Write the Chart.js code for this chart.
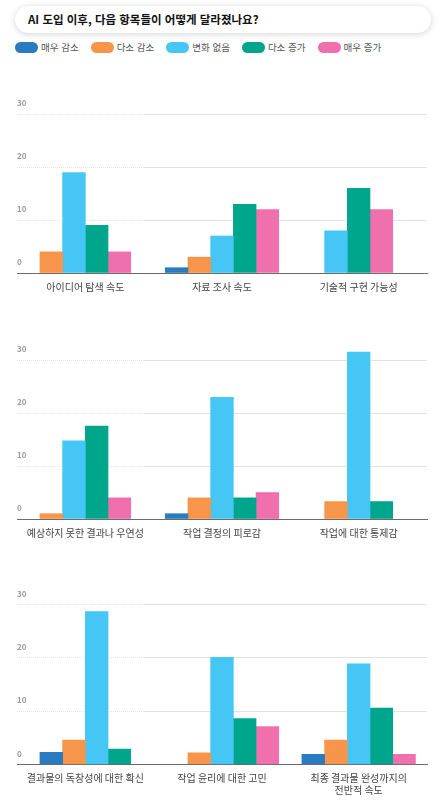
<!DOCTYPE html>
<html lang="ko">
<head>
<meta charset="utf-8">
<title>AI 도입 이후 변화</title>
<script src="https://cdn.jsdelivr.net/npm/chart.js@4.4.1/dist/chart.umd.min.js"></script>
<style>
  body { margin: 0; background: #fff; width: 445px; height: 808px; overflow: hidden; position: relative;
    font-family: 'Noto Sans CJK KR', 'Noto Sans', sans-serif; }
  #title { position: absolute; left: 15px; top: 6px; width: 416px; height: 27px; box-sizing: border-box;
    padding-left: 13px; border-radius: 14px; background: #fff; box-shadow: 0 1px 6px rgba(0, 0, 0, 0.18);
    font-size: 11.5px; font-weight: bold; line-height: 27px; color: #111; }
  #legend { position: absolute; left: 15px; top: 41px; display: flex; font-size: 9.5px; color: #555; line-height: 13px; }
  .item { display: flex; align-items: center; margin-right: 12px; }
  .pill { width: 23px; height: 11px; border-radius: 6px; margin-right: 3px; }
  .panel { position: absolute; left: 0; width: 445px; }
</style>
</head>
<body>
<div id="title">AI 도입 이후, 다음 항목들이 어떻게 달라졌나요?</div>
<div id="legend"></div>
<div class="panel" style="top:60px;height:245px"><canvas id="c1"></canvas></div>
<div class="panel" style="top:306px;height:245px"><canvas id="c2"></canvas></div>
<div class="panel" style="top:550px;height:258px"><canvas id="c3"></canvas></div>
<script>
  // series (legend order)
  var seriesNames = ['매우 감소', '다소 감소', '변화 없음', '다소 증가', '매우 증가']
  var seriesColors = ['#2b7bc0', '#f7964b', '#46c6f4', '#00a68b', '#ef70ac']

  // categories of each panel
  var labels1 = ['아이디어 탐색 속도', '자료 조사 속도', '기술적 구현 가능성']
  var labels2 = ['예상하지 못한 결과나 우연성', '작업 결정의 피로감', '작업에 대한 통제감']
  var labels3 = ['결과물의 독창성에 대한 확신', '작업 윤리에 대한 고민', ['최종 결과물 완성까지의', '전반적 속도']]

  // one row per series, one value per category (null = no bar)
  var values1 = [
    [null, 1, null],
    [4, 3, null],
    [19, 7, 8],
    [9, 13, 16],
    [4, 12, 12]
  ]
  var values2 = [
    [null, 1, null],
    [1, 4, 3.3],
    [14.8, 23, 31.6],
    [17.6, 4, 3.3],
    [4, 5, null]
  ]
  var values3 = [
    [2.3, 0, 1.9],
    [4.6, 2.2, 4.6],
    [28.7, 20.1, 18.9],
    [2.9, 8.6, 10.6],
    [null, 7.1, 1.9]
  ]

  // y axis
  var yTicks = [0, 10, 20, 30]
  var yMax = 35

  Chart.defaults.font.family = "'Noto Sans CJK KR', 'Noto Sans', sans-serif"

  // html legend
  var $legend = document.getElementById('legend')
  var items = []
  for (var i = 0; i < seriesNames.length; i++) {
    items.push('<div class="item"><span class="pill" style="background:' + seriesColors[i] + '"></span>' + seriesNames[i] + '</div>')
  }
  $legend.insertAdjacentHTML('afterbegin', items.join(''))

  // dotted grid on the first stretch, solid after that
  var gridDash = []
  for (var d = 0; d < 63; d++) gridDash.push(1, 1)
  gridDash.push(2000, 0)

  function makeChart (id, labels, values, padBottom) {
    var datasets = seriesNames.map(function (name, i) {
      return {
        label: name,
        data: values[i],
        backgroundColor: seriesColors[i],
        barThickness: 22.7,
        skipNull: true
      }
    })
    return new Chart(document.getElementById(id), {
      type: 'bar',
      data: { labels: labels, datasets: datasets },
      options: {
        responsive: true,
        maintainAspectRatio: false,
        animation: false,
        layout: { padding: { left: 17, right: 18, top: 28, bottom: padBottom } },
        plugins: { legend: { display: false }, tooltip: { enabled: false } },
        scales: {
          x: {
            grid: { display: false, drawTicks: false },
            border: { display: true, color: '#6b6b6b', width: 1 },
            ticks: { padding: 8, color: '#444', font: { size: 10 }, maxRotation: 0, autoSkip: false }
          },
          y: {
            min: 0,
            max: yMax,
            afterBuildTicks: function (axis) {
              axis.ticks = yTicks.map(function (v) { return { value: v } })
            },
            grid: { color: '#e3e3e3', drawTicks: false },
            border: { display: false, dash: gridDash },
            ticks: { mirror: true, padding: 0, labelOffset: -11, color: '#999', font: { size: 8, weight: 'bold' } }
          }
        }
      }
    })
  }

  makeChart('c1', labels1, values1, 4)
  makeChart('c2', labels2, values2, 4)
  makeChart('c3', labels3, values3, 3.5)
</script>
</body>
</html>
